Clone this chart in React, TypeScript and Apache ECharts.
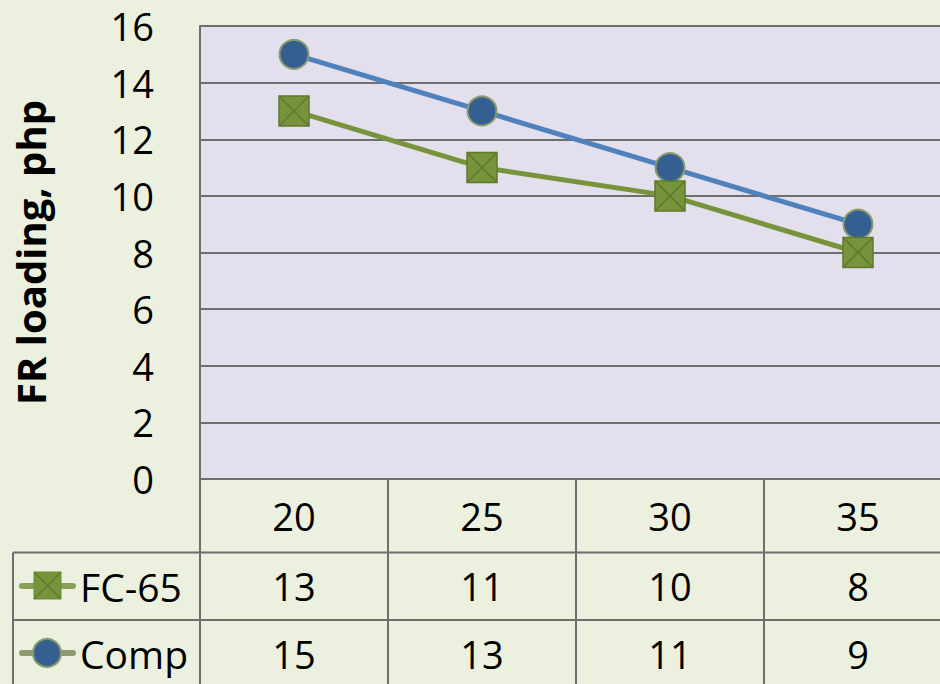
import React, { useEffect, useRef } from "react";
import * as echarts from "echarts";

const categories = ["20", "25", "30", "35"];
const fc65Values = [13, 11, 10, 8];
const compValues = [15, 13, 11, 9];
const yTicks = { min: 0, max: 16, interval: 2 };
const seriesNames = ["FC-65", "Comp"];

const FONT = "'Open Sans', 'Noto Sans', sans-serif";
const GRID_COLOR = "#6E6E6E";

const squareX = "path://M0,0H10V10H0Z M0,0L10,10 M10,0L0,10";

export default function App() {
  const ref = useRef<HTMLDivElement>(null);
  useEffect(() => {
    if (!ref.current) return;
    const chart = echarts.init(ref.current, null, { renderer: "svg" });
    const W = 970;
    const left = 200;
    const top = 26;
    const bottomY = 479;
    const row1 = 552.5;
    const row2 = 620;
    const tableRight = 952;
    const labelStyle = { fontFamily: FONT, fontSize: 38, color: "#000" };
    chart.setOption({
      animation: false,
      backgroundColor: "#EBF1DE",
      grid: {
        left,
        top,
        right: W - tableRight,
        height: bottomY - top,
        show: true,
        backgroundColor: "#E4DFEC",
        borderWidth: 0,
      },
      xAxis: [
        {
          type: "category",
          data: categories,
          boundaryGap: true,
          axisLine: { show: true, lineStyle: { color: GRID_COLOR, width: 2 } },
          axisTick: { show: true, length: 215, lineStyle: { color: GRID_COLOR, width: 2 } },
          axisLabel: { ...labelStyle, margin: 37, verticalAlign: "middle" },
          splitLine: { show: false },
        },
        {
          type: "category",
          data: fc65Values.map(String),
          position: "bottom",
          offset: row1 - bottomY,
          boundaryGap: true,
          axisLine: { show: false },
          axisTick: { show: false },
          axisLabel: { ...labelStyle, margin: 33, verticalAlign: "middle" },
        },
        {
          type: "category",
          data: compValues.map(String),
          position: "bottom",
          offset: row2 - bottomY,
          boundaryGap: true,
          axisLine: { show: false },
          axisTick: { show: false },
          axisLabel: { ...labelStyle, margin: 34, verticalAlign: "middle" },
        },
      ],
      yAxis: {
        type: "value",
        min: yTicks.min,
        max: yTicks.max,
        interval: yTicks.interval,
        name: "FR loading, php",
        nameLocation: "middle",
        nameGap: 150,
        nameTextStyle: { fontFamily: FONT, fontSize: 40, fontWeight: "bold", color: "#000" },
        axisLine: { show: true, lineStyle: { color: GRID_COLOR, width: 2 } },
        axisTick: { show: false },
        axisLabel: { ...labelStyle, margin: 46 },
        splitLine: { show: true, lineStyle: { color: GRID_COLOR, width: 2 } },
      },
      series: [
        {
          name: seriesNames[1],
          type: "line",
          data: compValues,
          symbol: "circle",
          symbolSize: 29,
          lineStyle: { color: "#4F81BD", width: 5 },
          itemStyle: { color: "#365F91", borderColor: "#8A9B6E", borderWidth: 2 },
          z: 2,
        },
        {
          name: seriesNames[0],
          type: "line",
          data: fc65Values,
          symbol: squareX,
          symbolSize: 30,
          lineStyle: { color: "#77933C", width: 5 },
          itemStyle: { color: "#77933C", borderColor: "#5F7A2C", borderWidth: 1.5 },
          z: 3,
        },
      ],
      graphic: [
        { type: "line", shape: { x1: 13, y1: row1, x2: tableRight, y2: row1 }, style: { stroke: GRID_COLOR, lineWidth: 2 } },
        { type: "line", shape: { x1: 13, y1: row2, x2: tableRight, y2: row2 }, style: { stroke: GRID_COLOR, lineWidth: 2 } },
        { type: "line", shape: { x1: 13, y1: row1, x2: 13, y2: 700 }, style: { stroke: GRID_COLOR, lineWidth: 2 } },
        // legend key FC-65
        { type: "line", shape: { x1: 22, y1: 586, x2: 73, y2: 586 }, style: { stroke: "#8AA155", lineWidth: 6, lineCap: "round" } },
        { type: "rect", shape: { x: 34, y: 572, width: 27, height: 27 }, style: { fill: "#77933C", stroke: "#6E8C35", lineWidth: 1 } },
        { type: "line", shape: { x1: 34, y1: 572, x2: 61, y2: 599 }, style: { stroke: "#5F7A2C", lineWidth: 1.5 } },
        { type: "line", shape: { x1: 61, y1: 572, x2: 34, y2: 599 }, style: { stroke: "#5F7A2C", lineWidth: 1.5 } },
        { type: "text", x: 80, y: 586, style: { text: seriesNames[0], fontFamily: FONT, fontSize: 39, fill: "#000", verticalAlign: "middle", align: "left" } },
        // legend key Comp
        { type: "line", shape: { x1: 22, y1: 653, x2: 73, y2: 653 }, style: { stroke: "#8A9B6E", lineWidth: 6, lineCap: "round" } },
        { type: "circle", shape: { cx: 47, cy: 653, r: 14 }, style: { fill: "#365F91", stroke: "#8A9B6E", lineWidth: 2 } },
        { type: "text", x: 80, y: 653, style: { text: seriesNames[1], fontFamily: FONT, fontSize: 39, fill: "#000", verticalAlign: "middle", align: "left" } },
      ],
    });
    return () => chart.dispose();
  }, []);
  return (
    <div style={{ position: "fixed", left: 0, top: 0, width: 940, height: 684, overflow: "hidden" }}>
      <div ref={ref} style={{ width: 970, height: 684 }} />
    </div>
  );
}
